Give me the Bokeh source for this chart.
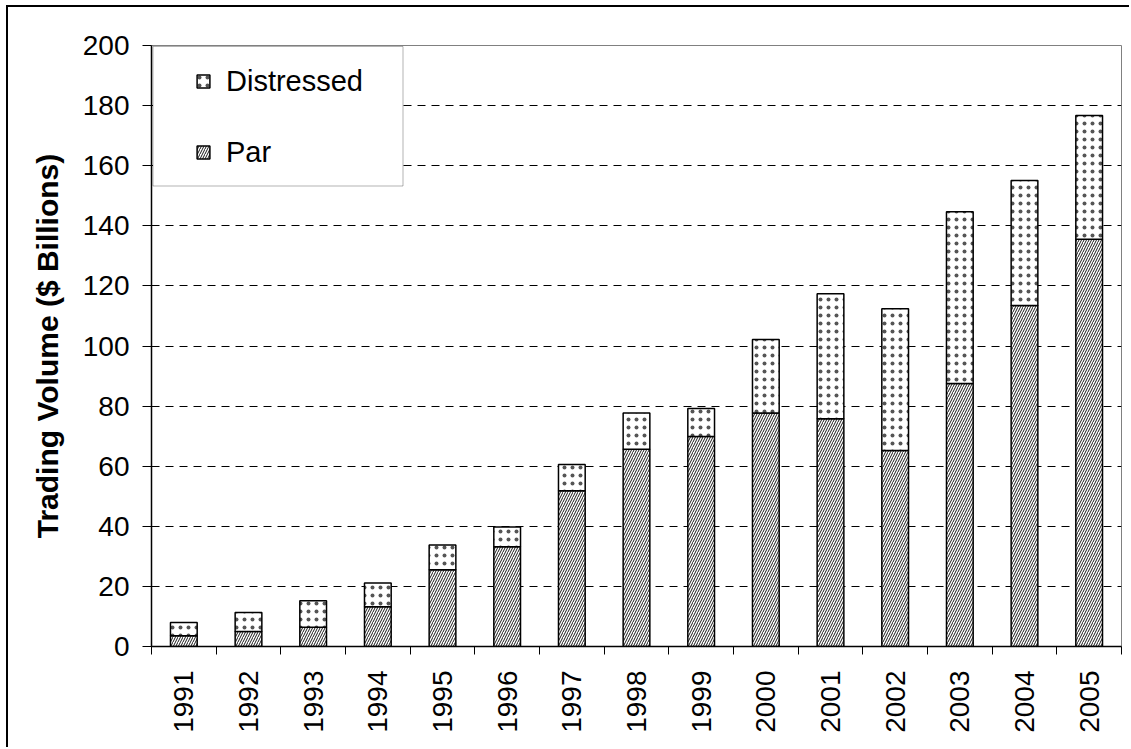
import math

from bokeh.plotting import figure
from bokeh.models import (ColumnDataSource, Range1d, FixedTicker, Legend,
                          LegendItem, BoxAnnotation)
from bokeh.embed import file_html
from bokeh.resources import INLINE

# Secondary loan trading volume, $ billions
years = ["1991", "1992", "1993", "1994", "1995", "1996", "1997", "1998",
         "1999", "2000", "2001", "2002", "2003", "2004", "2005"]
par = [3.6, 5.0, 6.4, 13.2, 25.5, 33.2, 51.8, 65.6, 69.9, 77.7, 75.8, 65.2,
       87.5, 113.5, 135.5]
distressed = [4.4, 6.3, 8.8, 7.9, 8.3, 6.6, 8.8, 12.1, 9.3, 24.5, 41.6, 47.2,
              57.2, 41.6, 41.2]
y_ticks = [0, 20, 40, 60, 80, 100, 120, 140, 160, 180, 200]

FONT = "Liberation Sans"

# page offset of the canvas (the chart border sits just outside it)
OX, OY = 8, 7

centers = [i + 0.5 for i in range(len(years))]
bounds = list(range(len(years) + 1))
totals = [a + b for a, b in zip(par, distressed)]
src = ColumnDataSource(dict(x=centers, par=par, total=totals))

p = figure(width=1131 - OX, height=749 - OY,
           x_range=Range1d(0, len(years)), y_range=Range1d(0, 200),
           output_backend="svg", toolbar_location=None,
           min_border_left=151 - OX, min_border_top=45 - OY,
           min_border_right=10, min_border_bottom=103)
p.styles = {"margin-left": "6px", "margin-top": "5px",
            "border-left": "2px solid black",
            "border-top": "2px solid black"}
p.background_fill_color = "white"
p.border_fill_color = "white"
p.outline_line_color = "#808080"
p.outline_line_width = 1

bar_w = 0.413
r_par = p.vbar(x="x", bottom=0, top="par", width=bar_w, source=src,
               fill_color="white", line_color="black", line_width=1.5,
               hatch_pattern="/", hatch_color="black", hatch_scale=5,
               hatch_weight=0.9)
r_dis = p.vbar(x="x", bottom="par", top="total", width=bar_w, source=src,
               fill_color="white", line_color="black", line_width=1.5,
               hatch_pattern=".", hatch_color="#555555", hatch_scale=8,
               hatch_weight=0.6)

# x axis: year labels at bar centres, tick marks between categories
xa = p.xaxis[0]
xa.ticker = FixedTicker(ticks=centers, minor_ticks=bounds)
xa.major_label_overrides = {c: y for c, y in zip(centers, years)}
xa.major_tick_out = 0
xa.major_tick_in = 0
xa.minor_tick_out = 8
xa.minor_tick_in = 0
xa.minor_tick_line_color = "black"
xa.axis_line_color = "black"
xa.axis_line_width = 1.5
xa.major_label_orientation = math.pi / 2
xa.major_label_standoff = 16
xa.major_label_text_font = FONT
xa.major_label_text_font_size = "28px"
xa.major_label_text_color = "black"

ya = p.yaxis[0]
ya.ticker = FixedTicker(ticks=y_ticks)
ya.minor_tick_line_color = None
ya.major_tick_out = 9
ya.major_tick_in = 0
ya.major_tick_line_color = "black"
ya.axis_line_color = "black"
ya.axis_line_width = 1.5
ya.major_label_standoff = 13
ya.major_label_text_font = FONT
ya.major_label_text_font_size = "28px"
ya.major_label_text_color = "black"
ya.axis_label = "Trading Volume ($ Billions)"
ya.axis_label_text_font = FONT
ya.axis_label_text_font_size = "30px"
ya.axis_label_text_font_style = "bold"
ya.axis_label_text_color = "black"
ya.axis_label_standoff = 16

p.xgrid.visible = False
p.ygrid.ticker = FixedTicker(ticks=y_ticks[1:-1])
p.ygrid.grid_line_color = "black"
p.ygrid.grid_line_width = 1
p.ygrid.grid_line_dash = "8 6"

# legend box
p.add_layout(BoxAnnotation(left=150.5 - OX, right=400.5 - OX,
                           top=44 - OY, bottom=183.5 - OY,
                           left_units="canvas", right_units="canvas",
                           top_units="canvas", bottom_units="canvas",
                           fill_color="white", fill_alpha=1,
                           line_color="black", line_width=1))

legend = Legend(items=[LegendItem(label="Distressed", renderers=[r_dis]),
                       LegendItem(label="Par", renderers=[r_par])],
                location=(44, 477), padding=0, spacing=37,
                glyph_width=16, glyph_height=16, label_height=34,
                label_standoff=15, label_text_font=FONT,
                label_text_font_size="29px", label_text_color="black",
                border_line_alpha=0, background_fill_alpha=0)
p.add_layout(legend)

open("out.html", "w").write(file_html(p, INLINE))
